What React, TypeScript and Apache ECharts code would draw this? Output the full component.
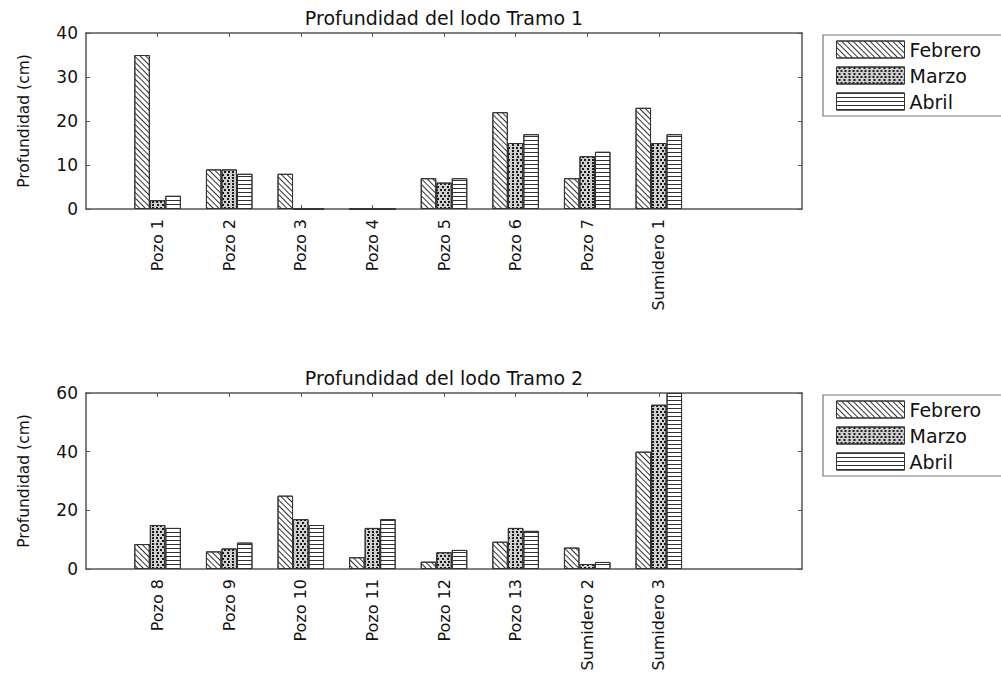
import React, { useEffect, useRef } from "react";
import * as echarts from "echarts";

const categories1 = ["Pozo 1", "Pozo 2", "Pozo 3", "Pozo 4", "Pozo 5", "Pozo 6", "Pozo 7", "Sumidero 1"];
const febrero1 = [35, 9, 8, 0, 7, 22, 7, 23];
const marzo1 = [2, 9, 0, 0, 6, 15, 12, 15];
const abril1 = [3, 8, 0, 0, 7, 17, 13, 17];

const categories2 = ["Pozo 8", "Pozo 9", "Pozo 10", "Pozo 11", "Pozo 12", "Pozo 13", "Sumidero 2", "Sumidero 3"];
const febrero2 = [8.5, 6, 25, 4, 2.5, 9.3, 7.3, 40];
const marzo2 = [15, 7, 17, 14, 5.7, 14, 1.7, 56];
const abril2 = [14, 9, 15, 17, 6.5, 13, 2.4, 60];

const months = ["Febrero", "Marzo", "Abril"];
const titles = ["Profundidad del lodo Tramo 1", "Profundidad del lodo Tramo 2"];
const yAxisName = "Profundidad (cm)";
const yMax = [40, 60];
const yStep = [10, 20];
const xSlots = 10;

const FONT = "DejaVu Sans";
const AXIS_COLOR = "#555";
const TEXT_COLOR = "#111";

const fills = ["#fff", "#d0d0d0", "#fff"];
const decals: any[] = [
  { symbol: "rect", symbolSize: 1, dashArrayX: [1, 0], dashArrayY: [1, 2.5], rotation: Math.PI / 4, color: "#333" },
  { symbol: "rect", symbolSize: 1, dashArrayX: [[2, 1.5], [0, 1.75, 2, 0.75]], dashArrayY: [1.5, 0.8], color: "#1a1a1a" },
  { symbol: "rect", symbolSize: 1, dashArrayX: [1, 0], dashArrayY: [1, 3], color: "#333" },
];

export default function App() {
  const ref = useRef<HTMLDivElement>(null);
  useEffect(() => {
    document.body.style.margin = "0";
    const chart = echarts.init(ref.current!, null, { renderer: "svg" });
    const grids = [
      { left: 86, top: 33, width: 716, height: 176 },
      { left: 86, top: 393, width: 716, height: 176 },
    ];
    const cats = [categories1, categories2];
    const seriesData = [
      [febrero1, marzo1, abril1],
      [febrero2, marzo2, abril2],
    ];
    const tickVals = categories1.map((_, i) => i + 1);
    const axisLine = { show: true, onZero: false, lineStyle: { color: AXIS_COLOR, width: 1.5 } };

    const xAxis: any[] = [];
    const yAxis: any[] = [];
    const series: any[] = [];
    const legend: any[] = [];
    const graphic: any[] = [];

    grids.forEach((g, gi) => {
      xAxis.push({
        type: "value",
        gridIndex: gi,
        position: "bottom",
        min: 0,
        max: xSlots,
        interval: 1,
        axisLine,
        axisTick: { show: true, inside: true, length: 4, customValues: tickVals, lineStyle: { color: AXIS_COLOR } },
        splitLine: { show: false },
        axisLabel: {
          show: true,
          customValues: tickVals,
          rotate: 90,
          margin: 10,
          fontFamily: FONT,
          fontSize: 16,
          color: TEXT_COLOR,
          formatter: (v: number) => cats[gi][Math.round(v) - 1] ?? "",
        },
      });
      xAxis.push({
        type: "value",
        gridIndex: gi,
        position: "top",
        min: 0,
        max: xSlots,
        interval: 1,
        axisLine,
        axisTick: { show: true, inside: true, length: 4, customValues: tickVals, lineStyle: { color: AXIS_COLOR } },
        splitLine: { show: false },
        axisLabel: { show: false },
      });
      yAxis.push({
        type: "value",
        gridIndex: gi,
        position: "left",
        min: 0,
        max: yMax[gi],
        interval: yStep[gi],
        name: yAxisName,
        nameLocation: "middle",
        nameRotate: 90,
        nameGap: 54,
        nameTextStyle: { fontFamily: FONT, fontSize: 15.5, color: TEXT_COLOR },
        axisLine,
        axisTick: { show: true, inside: true, length: 4, lineStyle: { color: AXIS_COLOR } },
        splitLine: { show: false },
        axisLabel: { fontFamily: FONT, fontSize: 17, color: TEXT_COLOR, margin: 8 },
      });
      yAxis.push({
        type: "value",
        gridIndex: gi,
        position: "right",
        min: 0,
        max: yMax[gi],
        interval: yStep[gi],
        axisLine,
        axisTick: { show: true, inside: true, length: 4, lineStyle: { color: AXIS_COLOR } },
        splitLine: { show: false },
        axisLabel: { show: false },
      });
      seriesData[gi].forEach((vals, mi) => {
        series.push({
          type: "bar",
          name: months[mi],
          xAxisIndex: gi * 2,
          yAxisIndex: gi * 2,
          data: vals.map((v, i) => [i + 1, v]),
          barGap: "0%",
          barCategoryGap: "35%",
          itemStyle: { color: fills[mi], borderColor: "#333", borderWidth: 1, decal: decals[mi] },
          emphasis: { disabled: true },
        });
      });
      legend.push({
        data: months,
        orient: "vertical",
        left: 823,
        top: gi === 0 ? 35 : 395,
        icon: "rect",
        itemWidth: 68,
        itemHeight: 17,
        itemGap: 7,
        itemTextGap: 7,
        padding: [5, 22, 5, 13],
        borderColor: "#777",
        borderWidth: 1.2,
        selectedMode: false,
        textStyle: { fontFamily: FONT, fontSize: 19, color: TEXT_COLOR },
        itemStyle: { borderColor: "#333", borderWidth: 1 },
      });
      graphic.push({
        type: "text",
        x: g.left + g.width / 2,
        y: g.top - 15,
        style: {
          text: titles[gi],
          align: "center",
          verticalAlign: "middle",
          fontFamily: FONT,
          fontSize: 19,
          fill: TEXT_COLOR,
        },
      });
    });

    chart.setOption({
      animation: false,
      backgroundColor: "#fff",
      grid: grids,
      xAxis,
      yAxis,
      series,
      legend,
      graphic,
      tooltip: { show: false },
    });
    return () => chart.dispose();
  }, []);
  return <div ref={ref} style={{ width: 1001, height: 675 }} />;
}
